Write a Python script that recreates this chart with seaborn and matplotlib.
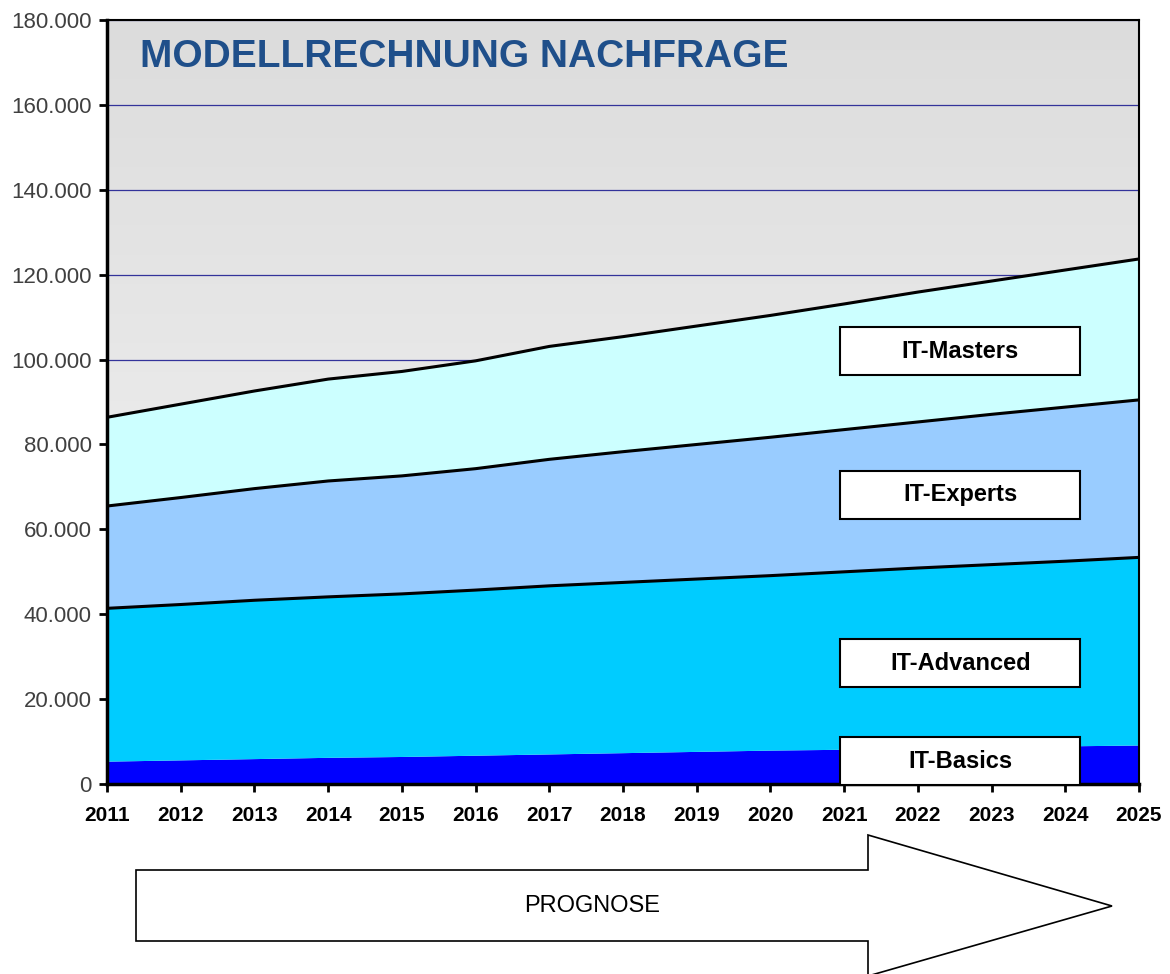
import numpy as np
import pandas as pd
import seaborn as sns
import matplotlib.pyplot as plt
from matplotlib.colors import LinearSegmentedColormap
from matplotlib.patches import Polygon, Rectangle
from matplotlib.ticker import FuncFormatter

years = list(range(2011, 2026))
basics = [5.4, 5.7, 6.0, 6.3, 6.5, 6.8, 7.1, 7.4, 7.7, 8.0, 8.2, 8.5, 8.8, 9.0, 9.2]
advanced_top = [41.4, 42.3, 43.3, 44.1, 44.8, 45.7, 46.7, 47.5, 48.3, 49.1, 50.0, 50.9, 51.7, 52.5, 53.4]
experts_top = [65.5, 67.5, 69.6, 71.4, 72.6, 74.3, 76.5, 78.3, 80.0, 81.7, 83.5, 85.3, 87.1, 88.8, 90.5]
masters_top = [86.4, 89.5, 92.6, 95.4, 97.2, 99.7, 103.1, 105.4, 107.9, 110.4, 113.1, 115.9, 118.5, 121.1, 123.7]

series_names = ['IT-Basics', 'IT-Advanced', 'IT-Experts', 'IT-Masters']
series_colors = ['#0000ff', '#00ccff', '#99ccff', '#ccffff']
label_centers = [5.4, 28.5, 68.1, 102.0]

# values read in thousands, cumulative tops
df = pd.DataFrame({'year': years,
                   'IT-Basics': np.array(basics) * 1000,
                   'IT-Advanced': np.array(advanced_top) * 1000,
                   'IT-Experts': np.array(experts_top) * 1000,
                   'IT-Masters': np.array(masters_top) * 1000})

sns.set_style('white')
plt.rcParams['font.family'] = ['Liberation Sans', 'DejaVu Sans']
plt.rcParams['text.color'] = 'black'

fig = plt.figure(figsize=(11.7, 9.74), dpi=100)
ax = fig.add_axes([0.0915, 0.195, 0.882, 0.7845])

# gradient background
grad = np.linspace(0, 1, 256).reshape(-1, 1)
ax.imshow(grad, extent=[2011, 2025, 0, 180000], aspect='auto', origin='upper',
          cmap=LinearSegmentedColormap.from_list('bg', ['#dcdcdc', '#f6f6f6']), zorder=0)

for yv in range(20000, 180001, 20000):
    ax.axhline(yv, color='#33339a', lw=0.9, zorder=1)

bottom = np.zeros(len(years))
for name, col in zip(series_names, series_colors):
    top = df[name].values
    ax.fill_between(df['year'], bottom, top, color=col, lw=0, zorder=2)
    bottom = top

for name in series_names[1:]:
    sns.lineplot(data=df, x='year', y=name, color='black', lw=2.2, ax=ax, zorder=3)

ax.set_xlim(2011, 2025)
ax.set_ylim(0, 180000)
ax.set_xticks(years)
ax.set_yticks(range(0, 180001, 20000))
ax.yaxis.set_major_formatter(FuncFormatter(lambda v, p: f'{int(v):,}'.replace(',', '.')))
ax.set_xlabel('')
ax.set_ylabel('')
for lab in ax.get_xticklabels():
    lab.set_fontweight('bold')
ax.tick_params(axis='x', labelsize=15, direction='out', length=6, width=2, colors='black', pad=10)
ax.tick_params(axis='y', labelsize=16, direction='out', length=6, width=2, colors='black',
               labelcolor='#404040', pad=5)
ax.tick_params(bottom=True, left=True)
for s in ['left', 'bottom']:
    ax.spines[s].set_linewidth(2.5)
    ax.spines[s].set_color('black')
for s in ['top', 'right']:
    ax.spines[s].set_linewidth(1.5)
    ax.spines[s].set_color('black')
ax.grid(False)

ax.text(2011.45, 171300, 'MODELLRECHNUNG NACHFRAGE', fontsize=28, fontweight='bold',
        color='#1f4f8a', va='center', ha='left', zorder=5)

# label boxes
for name, yc in zip(series_names, label_centers):
    ax.add_patch(Rectangle((2020.95, yc * 1000 - 5600), 3.25, 11200, facecolor='white',
                           edgecolor='black', lw=1.5, zorder=6, clip_on=False))
    ax.text(2022.575, yc * 1000, name, fontsize=17, fontweight='bold', ha='center',
            va='center', color='black', zorder=7)

# PROGNOSE arrow
W, H = 1170.0, 974.0
pts = [(136, 870), (868, 870), (868, 835), (1112, 906), (868, 976), (868, 941), (136, 941)]
arrow = Polygon([(x / W, 1 - y / H) for x, y in pts], closed=True, facecolor='white',
                edgecolor='black', lw=1.2, transform=fig.transFigure, clip_on=False)
fig.add_artist(arrow)
fig.text(592 / W, 1 - 906 / H, 'PROGNOSE', fontsize=17, ha='center', va='center', color='black')

fig.savefig('out.png', dpi=100, facecolor='white')
